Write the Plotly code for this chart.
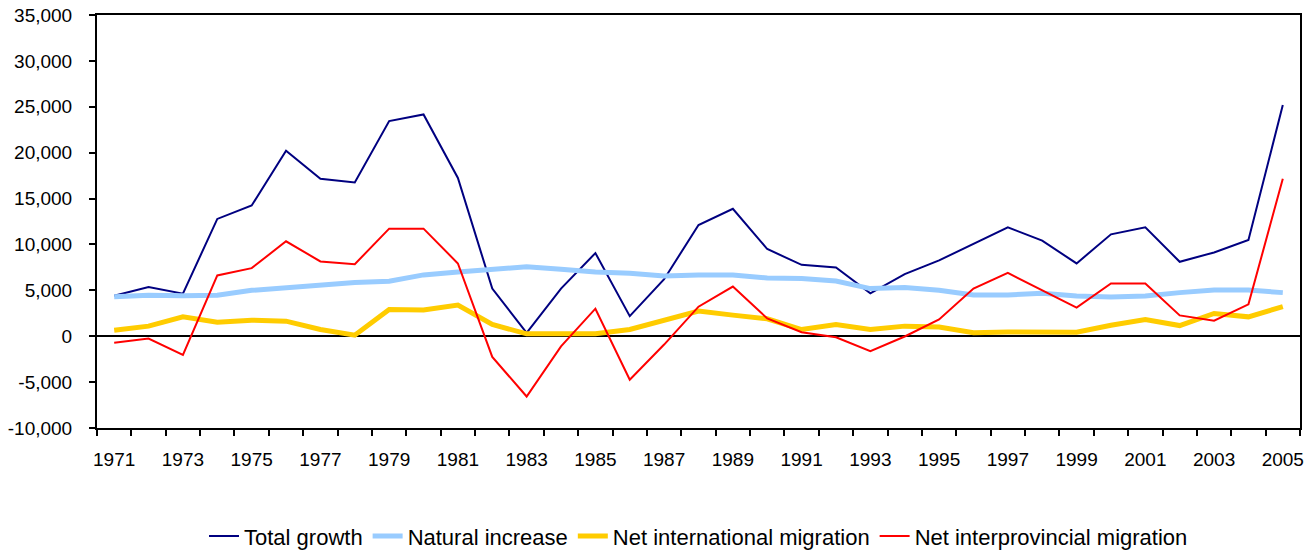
import plotly.graph_objects as go

years = list(range(1971, 2006))

total_growth = [4400, 5370, 4640, 12780, 14240, 20200, 17160, 16760, 23440, 24170,
                17240, 5190, 370, 5190, 9060, 2190, 6210, 12120, 13880, 9500,
                7780, 7490, 4680, 6760, 8260, 10040, 11870, 10410, 7930, 11100,
                11870, 8110, 9130, 10480, 25190]

natural_increase = [4310, 4460, 4400, 4460, 5000, 5300, 5480, 5850, 5990, 6680,
                    7010, 7350, 7560, 7300, 7010, 6870, 6570, 6680, 6680, 6350,
                    6280, 6020, 5190, 5300, 5000, 4490, 4490, 4680, 4380, 4270,
                    4380, 4750, 5040, 5040, 4750]

net_international = [660, 1100, 2120, 1530, 1750, 1640, 730, 110, 2920, 2850,
                     3400, 1280, 260, 260, 260, 730, 1750, 2740, 2300, 1900,
                     730, 1280, 730, 1100, 1000, 370, 470, 520, 440, 1200,
                     1830, 1160, 2480, 2110, 3220]

net_interprovincial = [-720, -250, -2040, 6620, 7420, 10340, 8150, 7850, 11720, 11720,
                       7930, -2260, -6570, -1100, 3000, -4740, -910, 3220, 5410, 1940,
                       440, -110, -1640, -30, 1830, 5190, 6900, 5000, 3110, 5740,
                       5740, 2270, 1690, 3470, 17160]

y_tick_vals = [-10000, -5000, 0, 5000, 10000, 15000, 20000, 25000, 30000, 35000]
y_tick_text = ["-10,000", "-5,000", "0", "5,000", "10,000", "15,000", "20,000",
               "25,000", "30,000", "35,000"]
x_tick_vals = list(range(1971, 2006, 2))
x_tick_text = [str(y) for y in x_tick_vals]

series = [
    ("Total growth", total_growth, "#000080", 2),
    ("Natural increase", natural_increase, "#99CCFF", 5),
    ("Net international migration", net_international, "#FFCC00", 5),
    ("Net interprovincial migration", net_interprovincial, "#FF0000", 2),
]

fig = go.Figure()
for name, vals, color, w in series:
    fig.add_trace(go.Scatter(x=years, y=vals, mode="lines", name=name,
                             line=dict(color=color, width=w)))

font_family = "Liberation Sans, Arial, sans-serif"
fig.update_layout(
    width=1313, height=551,
    margin=dict(l=97, r=13, t=15, b=123, autoexpand=False),
    paper_bgcolor="white", plot_bgcolor="white",
    font=dict(family=font_family, size=19, color="black"),
    showlegend=True,
    legend=dict(orientation="h", x=0.5, xanchor="center", y=-0.262, yanchor="middle",
                font=dict(size=22), itemwidth=30, tracegroupgap=0),
)
fig.update_xaxes(
    range=[1970.5, 2005.5],
    tickvals=x_tick_vals, ticktext=x_tick_text,
    ticks="outside", ticklen=0,
    minor=dict(tick0=1970.5, dtick=1, ticks="outside", ticklen=6, tickcolor="black", tickwidth=2),
    showgrid=False, zeroline=False,
    showline=True, linecolor="black", linewidth=2, mirror=True,
    ticklabelstandoff=13, automargin=False,
)
fig.update_yaxes(
    range=[-10000, 35000],
    tickvals=y_tick_vals, ticktext=y_tick_text,
    ticks="outside", ticklen=6, tickcolor="black", tickwidth=2,
    showgrid=False,
    zeroline=True, zerolinecolor="black", zerolinewidth=2,
    showline=True, linecolor="black", linewidth=2, mirror=True,
    ticklabelstandoff=13, automargin=False,
)

fig.write_html("out.html", config={"displayModeBar": False},
               post_script="document.body.style.margin='0';")
